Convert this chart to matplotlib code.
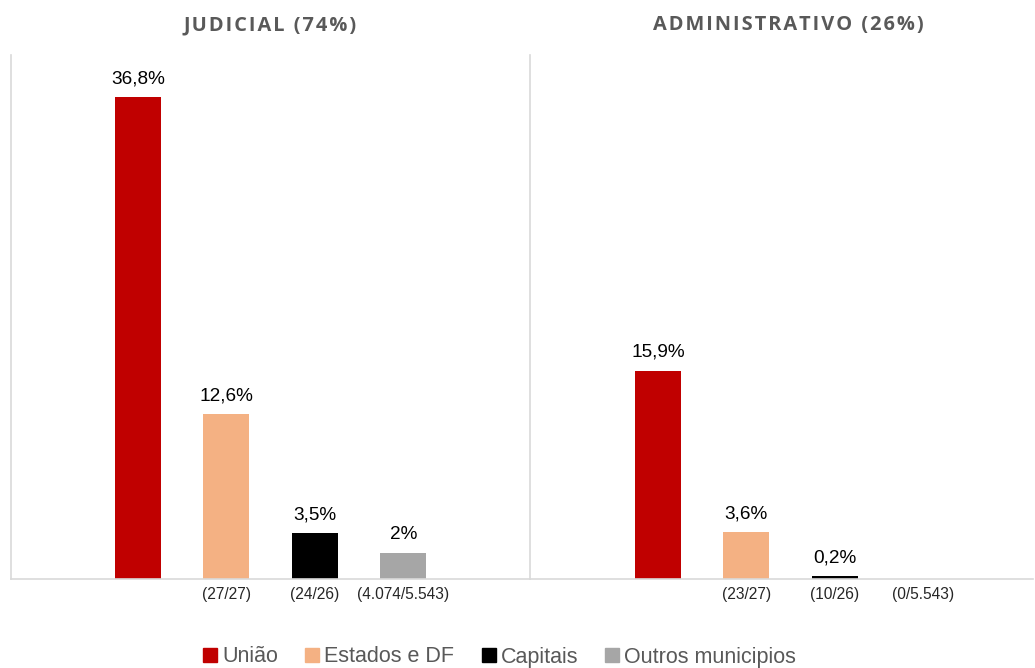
import matplotlib
matplotlib.use("Agg")
import matplotlib.pyplot as plt
from matplotlib.lines import Line2D

categories = ["União", "Estados e DF", "Capitais", "Outros municipios"]
colors = ["#C00000", "#F4B183", "#000000", "#A6A6A6"]

judicial_values = [36.8, 12.6, 3.5, 2.0]
judicial_labels = ["36,8%", "12,6%", "3,5%", "2%"]
judicial_ticks = ["", "(27/27)", "(24/26)", "(4.074/5.543)"]

admin_values = [15.9, 3.6, 0.2, 0.0]
admin_labels = ["15,9%", "3,6%", "0,2%", ""]
admin_ticks = ["", "(23/27)", "(10/26)", "(0/5.543)"]

titles = ["JUDICIAL (74%)", "ADMINISTRATIVO (26%)"]

plt.rcParams["font.family"] = ["Liberation Sans", "DejaVu Sans"]

fig = plt.figure(figsize=(10.35, 6.68), dpi=100)
W, H = 1035, 668
ax1 = fig.add_axes([11 / W, 89 / H, 519 / W, 524 / H])
ax2 = fig.add_axes([530 / W, 89 / H, 503 / W, 524 / H])

spine_color = "#D9D9D9"
panels = [
    (ax1, judicial_values, judicial_labels, judicial_ticks, (-1.435, 4.43)),
    (ax2, admin_values, admin_labels, admin_ticks, (-1.446, 4.24)),
]
x = list(range(len(categories)))
for ax, vals, labs, ticks, xlim in panels:
    bars = ax.bar(x, vals, width=0.52, color=colors)
    for b, v, lab in zip(bars, vals, labs):
        if lab:
            ax.text(b.get_x() + b.get_width() / 2, v + 0.75, lab,
                    ha="center", va="bottom", fontsize=13.7, color="black")
    ax.set_xlim(*xlim)
    ax.set_ylim(0, 40)
    ax.set_xticks(x)
    ax.set_xticklabels(ticks, fontsize=11.2, color="#262626")
    ax.tick_params(axis="x", length=0, pad=6)
    ax.set_yticks([])
    for s in ["top", "right"]:
        ax.spines[s].set_visible(False)
    ax.spines["left"].set_color(spine_color)
    ax.spines["bottom"].set_color(spine_color)
    ax.spines["left"].set_linewidth(1.2)
    ax.spines["bottom"].set_linewidth(1.2)


def spaced(s):
    return "\u200a".join(s)


title_kw = dict(fontsize=14.4, fontweight="bold", color="#595959",
                family=["Open Sans", "DejaVu Sans"], ha="center", va="center")
fig.text(270 / W, 1 - 25 / H, spaced(titles[0]), **title_kw)
fig.text(788 / W, 1 - 25 / H, spaced(titles[1]), **title_kw)

handles = [Line2D([0], [0], marker="s", linestyle="none", markersize=10,
                  markerfacecolor=c, markeredgecolor=c) for c in colors]
leg = fig.legend(handles, categories, loc="center", bbox_to_anchor=(500 / W, 11 / H),
                 ncol=4, frameon=False, fontsize=15.5, handlelength=0.6,
                 handletextpad=0.25, columnspacing=1.3)
for t in leg.get_texts():
    t.set_color("#595959")

fig.savefig("out.png", dpi=100)
